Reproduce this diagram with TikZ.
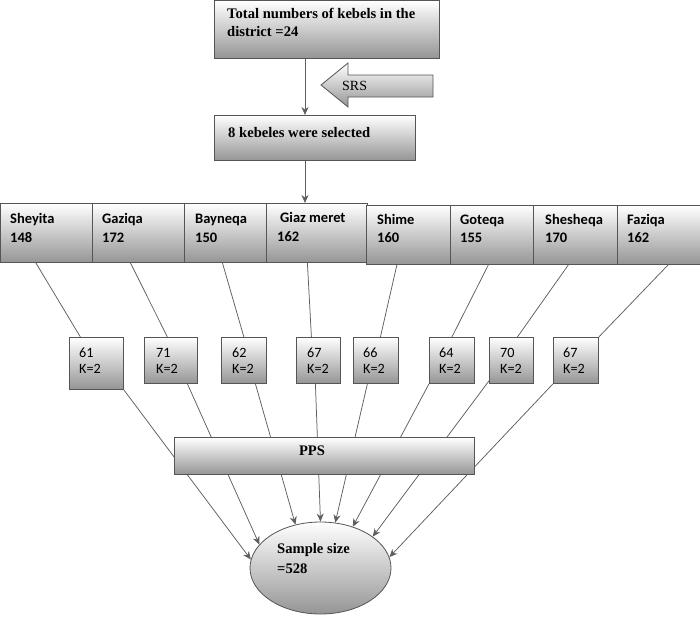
\documentclass[tikz,border=0pt]{standalone}
\usepackage{fontspec}
\setmainfont{Liberation Serif}
\newfontfamily\calfont{Carlito}
\usetikzlibrary{shapes.geometric,arrows.meta,calc}
\definecolor{edge}{HTML}{555555}
\definecolor{lnc}{HTML}{5E5E5E}
\definecolor{shd}{HTML}{959595}
\tikzset{
  gbox/.style={rectangle, draw=edge, line width=0.8pt, top color=white, bottom color=shd, inner sep=0pt, anchor=north west},
  tbx/.style={anchor=base west, inner sep=0pt, font=\fontsize{14.6}{17}\selectfont\bfseries},
  srs/.style={anchor=base west, inner sep=0pt, font=\fontsize{14}{17}\selectfont},
  rtx/.style={anchor=base west, inner sep=0pt, font=\calfont\fontsize{14.5}{17}\selectfont\bfseries},
  stx/.style={anchor=base west, inner sep=0pt, font=\calfont\fontsize{14.2}{17}\selectfont},
  conn/.style={draw=lnc, line width=0.75pt},
  arr/.style={conn, -{Stealth[length=8pt,width=7pt]}}
}
\begin{document}
\begin{tikzpicture}[x=1pt,y=-1pt]
\useasboundingbox (0,0) rectangle (700,618);
% top boxes
\node[gbox, minimum width=225pt, minimum height=57pt] (top) at (214,0.5) {};
\node[tbx] (t1) at (227,19) {Total numbers of kebels in the};
\node[tbx] (t2) at (227,37) {district =24};
\node[gbox, minimum width=201pt, minimum height=45pt] (sel) at (214,115) {};
\node[tbx] (t3) at (228,137) {8 kebeles were selected};
% SRS arrow
\path[draw=edge, line width=0.8pt, top color=white, bottom color=shd]
  (321,85) -- (348,63) -- (348,75) -- (433,75) -- (433,97) -- (348,97) -- (348,107) -- cycle;
\node[srs] (srs) at (342,90) {SRS};
% row boxes
\node[gbox, minimum width=92pt, minimum height=59pt] (r1) at (0.4,203) {};
\node[gbox, minimum width=92pt, minimum height=59pt] (r2) at (92,203) {};
\node[gbox, minimum width=82pt, minimum height=59pt] (r3) at (184,203) {};
\node[gbox, minimum width=101pt, minimum height=59pt] (r4) at (266,203) {};
\node[gbox, minimum width=84pt, minimum height=59pt] (r5) at (366,205) {};
\node[gbox, minimum width=83pt, minimum height=59pt] (r6) at (450,205) {};
\node[gbox, minimum width=84pt, minimum height=59pt] (r7) at (533,205) {};
\node[gbox, minimum width=82.6pt, minimum height=59pt] (r8) at (617,205) {};
\node[rtx] (n1a) at (10,223) {Sheyita};   \node[rtx] (n1b) at (10,242) {148};
\node[rtx] (n2a) at (102,223) {Gaziqa};   \node[rtx] (n2b) at (102,242) {172};
\node[rtx] (n3a) at (195,223) {Bayneqa};  \node[rtx] (n3b) at (195,242) {150};
\node[rtx] (n4a) at (280,222) {Giaz meret}; \node[rtx] (n4b) at (277,241) {162};
\node[rtx] (n5a) at (377,224) {Shime};    \node[rtx] (n5b) at (377,242) {160};
\node[rtx] (n6a) at (460,224) {Goteqa};   \node[rtx] (n6b) at (460,242) {155};
\node[rtx] (n7a) at (545,224) {Shesheqa}; \node[rtx] (n7b) at (545,242) {170};
\node[rtx] (n8a) at (627,224) {Faziqa};   \node[rtx] (n8b) at (627,242) {162};
% small boxes
\node[gbox, minimum width=54pt, minimum height=52pt] (s1) at (69,337) {};
\node[gbox, minimum width=53pt, minimum height=46pt] (s2) at (144,337) {};
\node[gbox, minimum width=45pt, minimum height=46pt] (s3) at (221,337) {};
\node[gbox, minimum width=44pt, minimum height=46pt] (s4) at (296,337) {};
\node[gbox, minimum width=45pt, minimum height=46pt] (s5) at (353,337) {};
\node[gbox, minimum width=45pt, minimum height=46pt] (s6) at (429,337) {};
\node[gbox, minimum width=44pt, minimum height=46pt] (s7) at (489,337) {};
\node[gbox, minimum width=45pt, minimum height=46pt] (s8) at (553,337) {};
\node[stx] (k1a) at (79,357) {61}; \node[stx] (k1b) at (79,373) {K=2};
\node[stx] (k2a) at (156,357) {71}; \node[stx] (k2b) at (156,373) {K=2};
\node[stx] (k3a) at (232,357) {62}; \node[stx] (k3b) at (232,373) {K=2};
\node[stx] (k4a) at (307,357) {67}; \node[stx] (k4b) at (307,373) {K=2};
\node[stx] (k5a) at (363,357) {66}; \node[stx] (k5b) at (363,373) {K=2};
\node[stx] (k6a) at (439,357) {64}; \node[stx] (k6b) at (439,373) {K=2};
\node[stx] (k7a) at (500,357) {70}; \node[stx] (k7b) at (500,373) {K=2};
\node[stx] (k8a) at (563,357) {67}; \node[stx] (k8b) at (563,373) {K=2};
% ellipse
\node[ellipse, draw=edge, line width=0.8pt, top color=white, bottom color=shd, inner sep=0pt,
      minimum width=141pt, minimum height=92pt] (ell) at (320.5,568) {};
\node[tbx] (e1) at (277,553) {Sample size};
\node[tbx] (e2) at (277,573) {=528};
% top arrows
\coordinate (ax) at (305,0);
\draw[arr] (top.south -| ax) -- (sel.north -| ax);
\draw[arr] (sel.south -| ax) -- (r4.north -| ax);
% row to small boxes
\draw[conn] ([xshift=-11pt]r1.south) -- ([xshift=-16pt]s1.north);
\draw[conn] ([xshift=-8pt]r2.south) -- ([xshift=-3.5pt]s2.north);
\draw[conn] ([xshift=-3pt]r3.south) -- (s3.north);
\draw[conn] ([xshift=-9.5pt]r4.south) -- ([xshift=-7pt]s4.north);
\draw[conn] ([xshift=-11.5pt]r5.south) -- ([xshift=4.5pt]s5.north);
\draw[conn] ([xshift=-3.5pt]r6.south) -- (s6.north);
\draw[conn] ([xshift=-7pt]r7.south) -- ([xshift=6pt]s7.north);
\draw[conn] ([xshift=9.5pt]r8.south) -- (s8.north east);
% small boxes to sample size
\draw[arr] (s1.south east) -- (ell.173.5);
\draw[arr] ([xshift=16.5pt]s2.south) -- (ell.159);
\draw[arr] ([xshift=11.5pt]s3.south) -- (ell.120);
\draw[arr] ([xshift=-3pt]s4.south) -- (ell.90);
\draw[arr] ([xshift=-8.5pt]s5.south) -- (ell.72);
\draw[arr] (s6.south west) -- (ell.52);
\draw[arr] ([yshift=3pt]s7.south west) -- (ell.31);
\draw[arr] (s8.south west) -- (ell.9);
% PPS box
\node[gbox, minimum width=300pt, minimum height=37pt] (pps) at (174,437) {};
\node[tbx, anchor=base] (ppst) at (312,455) {PPS};
\end{tikzpicture}
\end{document}
